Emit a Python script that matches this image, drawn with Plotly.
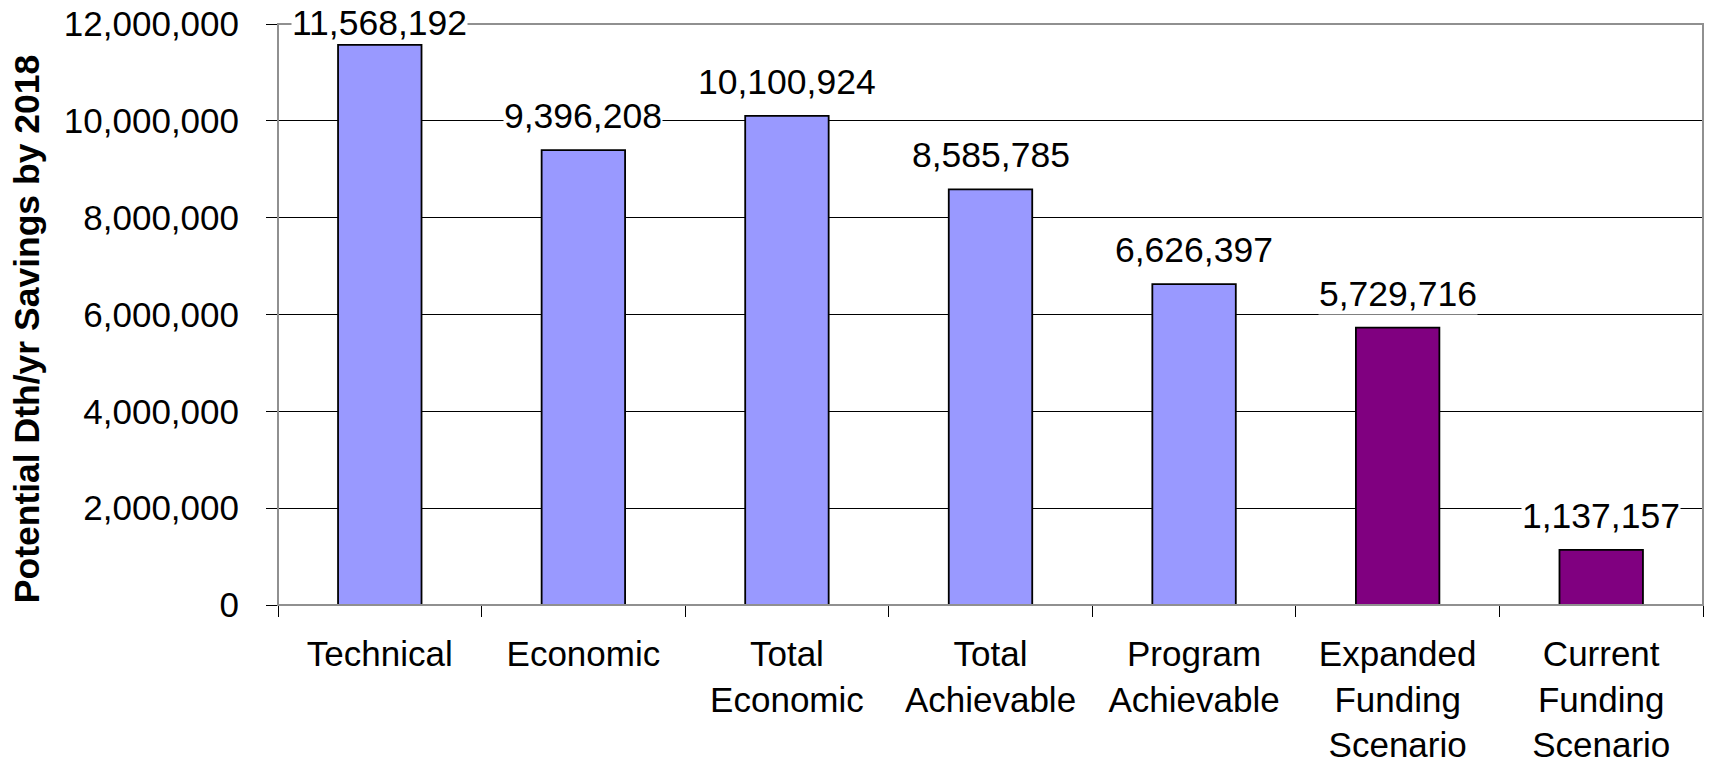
import plotly.graph_objects as go

categories = ["Technical", "Economic", "Total<br>Economic", "Total<br>Achievable",
              "Program<br>Achievable", "Expanded<br>Funding<br>Scenario",
              "Current<br>Funding<br>Scenario"]
values = [11568192, 9396208, 10100924, 8585785, 6626397, 5729716, 1137157]
bar_colors = ["#9999FF", "#9999FF", "#9999FF", "#9999FF", "#9999FF", "#800080", "#800080"]
y_ticks = [0, 2000000, 4000000, 6000000, 8000000, 10000000, 12000000]
y_title = "Potential Dth/yr Savings by 2018"
# vertical offset (px) of each value label above its bar (first one is pulled in at the top)
label_shift = [22, 34, 34, 34, 34, 34, 34]

FONT = "Arial, Liberation Sans, sans-serif"

fig = go.Figure()
fig.add_trace(go.Bar(
    x=categories, y=values,
    marker=dict(color=bar_colors, line=dict(color="black", width=1.8)),
    width=0.41,
))

for c, v, s in zip(categories, values, label_shift):
    fig.add_annotation(
        x=c, y=v, xref="x", yref="y",
        text=f"{v:,}", showarrow=False,
        yanchor="middle", yshift=s,
        font=dict(family=FONT, size=35.5, color="black"),
        bgcolor="white", borderpad=0,
    )

fig.add_annotation(
    x=-0.176, y=0.475, xref="paper", yref="paper",
    text=f"<b>{y_title}</b>", textangle=-90, showarrow=False,
    xanchor="center", yanchor="middle",
    font=dict(family=FONT, size=35.5, color="black"),
)

# plot-area border (grey), drawn on top
fig.add_shape(type="rect", xref="paper", yref="paper", x0=0, y0=0, x1=1, y1=1,
              line=dict(color="#909090", width=2), layer="above")

fig.update_layout(
    width=1710, height=762,
    margin=dict(l=278, r=7, t=24, b=157, autoexpand=False),
    paper_bgcolor="white", plot_bgcolor="white",
    showlegend=False,
    font=dict(family=FONT, size=35, color="black"),
)
fig.update_xaxes(
    type="category", tickson="boundaries", ticks="outside", ticklen=11,
    tickcolor="black", tickwidth=1, showgrid=False,
    showline=True, linecolor="black", linewidth=1,
    tickfont=dict(family=FONT, size=35, color="black"),
    ticklabelstandoff=18, automargin=False,
)
fig.update_yaxes(
    range=[0, 12000000], tickvals=y_ticks, tickformat=",",
    ticks="outside", ticklen=11, tickcolor="black", tickwidth=1,
    showgrid=True, gridcolor="black", gridwidth=1,
    showline=True, linecolor="black", linewidth=1,
    zeroline=False,
    tickfont=dict(family=FONT, size=35, color="black"),
    ticklabelstandoff=20, automargin=False,
)

fig.write_html("out.html", config={"displayModeBar": False},
               post_script="document.body.style.margin='0';")
